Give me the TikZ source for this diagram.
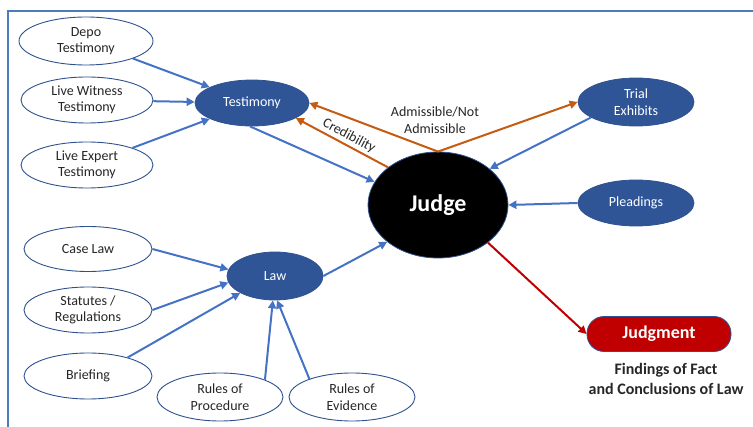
\documentclass[tikz,border=0pt]{standalone}
\usepackage{fontspec}
\setmainfont{Carlito}
\usetikzlibrary{shapes.geometric,arrows.meta}
\definecolor{nodeblue}{HTML}{2F5597}
\definecolor{edgeblue}{HTML}{2F528F}
\definecolor{arrowblue}{HTML}{4472C4}
\definecolor{frameblue}{HTML}{4A7EBB}
\definecolor{orng}{HTML}{C55A11}
\definecolor{jred}{HTML}{C00000}
\definecolor{txt}{HTML}{262626}
\begin{document}
\begin{tikzpicture}[x=1pt,y=-1pt,
  src/.style={ellipse, draw=edgeblue, line width=0.9pt, fill=white, inner sep=0pt, align=center, text=txt, font=\fontsize{14}{16.5}\selectfont},
  hub/.style={ellipse, draw=edgeblue, line width=0.8pt, fill=nodeblue, inner sep=0pt, align=center, text=white, font=\fontsize{14}{16.5}\selectfont},
  tipshape/.style={-{Triangle[length=8pt,width=8pt]}},
  blarrow/.style={draw=arrowblue, line width=2pt, tipshape},
  orarrow/.style={draw=orng, line width=2pt, tipshape},
  rdarrow/.style={draw=jred, line width=2pt, tipshape},
  plain/.style={align=center, text=txt, inner sep=0pt, font=\fontsize{14}{16.5}\selectfont},
]
\useasboundingbox (0,0) rectangle (753,427);
\draw[frameblue, line width=2pt] (8,427) -- (8,11) -- (753,11);

% source nodes
\node[src, minimum width=134pt, minimum height=48pt] (depo) at (86,41) {Depo\\Testimony};
\node[src, minimum width=132pt, minimum height=46pt] (witness) at (87,100) {Live Witness\\Testimony};
\node[src, minimum width=132pt, minimum height=46pt] (expert) at (87,165) {Live Expert\\Testimony};
\node[src, minimum width=128pt, minimum height=45pt] (caselaw) at (88,249) {Case Law};
\node[src, minimum width=128pt, minimum height=46pt] (statutes) at (88,310) {Statutes /\\Regulations};
\node[src, minimum width=128pt, minimum height=46pt] (briefing) at (88,376) {Briefing};
\node[src, minimum width=126pt, minimum height=48pt] (procedure) at (220,397) {Rules of\\Procedure};
\node[src, minimum width=126pt, minimum height=48pt] (evidence) at (352,397) {Rules of\\Evidence};

% hubs
\node[hub, minimum width=114pt, minimum height=46pt] (testimony) at (252,103) {Testimony};
\node[hub, minimum width=96pt, minimum height=48pt] (law) at (275,276) {Law};
\node[hub, minimum width=116pt, minimum height=48pt] (trial) at (636,102) {Trial\\Exhibits};
\node[hub, minimum width=116pt, minimum height=46pt] (pleadings) at (636,203) {Pleadings};

% judge
\node[ellipse, fill=black, draw=edgeblue, line width=0.8pt, inner sep=0pt, minimum width=140pt, minimum height=106pt, text=white, font=\fontsize{24}{28}\selectfont\bfseries] (judge) at (438,205) {Judge};

% judgment
\node[rectangle, rounded corners=17pt, fill=jred, draw=edgeblue, line width=0.8pt, inner sep=0pt, minimum width=144pt, minimum height=35pt, text=white, font=\fontsize{18}{21}\selectfont\bfseries] (judgment) at (659,334) {Judgment};
\node[align=center, inner sep=0pt, text=txt, font=\fontsize{16}{20}\selectfont\bfseries] (findings) at (666,379) {Findings of Fact\\and Conclusions of Law};

% labels
\node[plain] (admlabel) at (435,120) {Admissible/Not\\Admissible};
\node[plain, rotate=-28] (credlabel) at (349,136) {Credibility};

% testimony inputs
\draw[blarrow] (depo) -- (testimony);
\draw[blarrow] (witness) -- (testimony);
\draw[blarrow] (expert) -- (testimony);
\draw[blarrow] (testimony.-95) -- (judge.160);

% law inputs
\draw[blarrow] (caselaw.east) -- (law.172);
\draw[blarrow] (statutes.east) -- (law.188);
\draw[blarrow] (briefing.25) -- (law.206);
\draw[blarrow] (procedure.21) -- (law.-95);
\draw[blarrow] (evidence.157) -- (law.-85);
\draw[blarrow] (law.east) -- (judge.216);

% other inputs
\draw[blarrow] (trial.199) -- (judge.35);
\draw[blarrow] (pleadings.west) -- (judge.east);

% orange
\draw[orarrow] (judge.north) -- (testimony.east);
\draw[orarrow] (judge.north) -- (trial.west);
\draw[orarrow] (judge.143) -- (testimony.-19);

% red
\draw[rdarrow] (judge.-37) -- (judgment.west);
\end{tikzpicture}
\end{document}
